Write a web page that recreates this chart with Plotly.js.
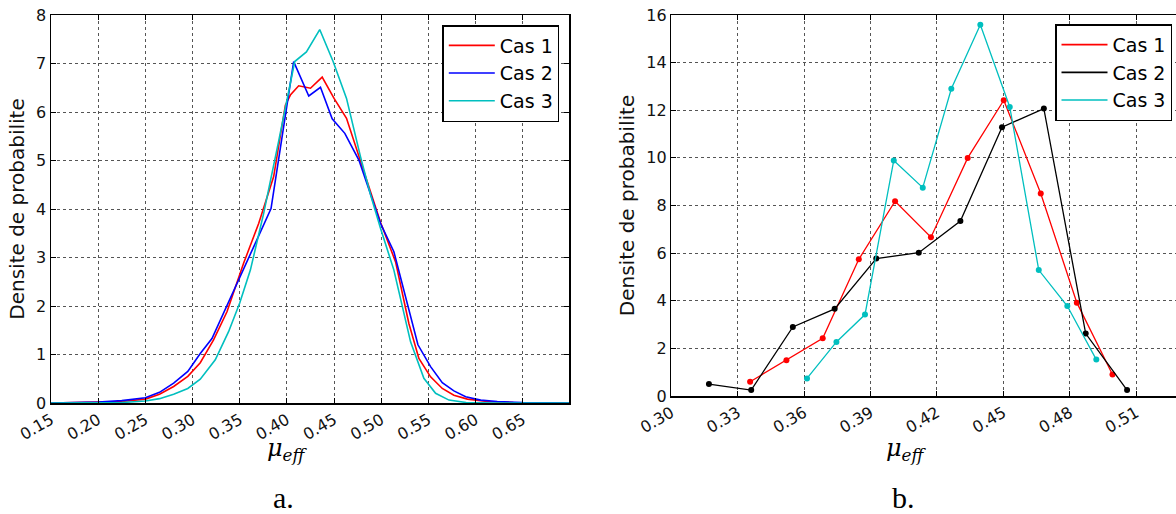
<!DOCTYPE html>
<html><head><meta charset="utf-8">
<script src="https://cdn.plot.ly/plotly-3.0.1.min.js"></script>
<style>html,body{margin:0;padding:0;background:#fff}#chart{width:1176px;height:514px}</style>
</head><body><div id="chart"></div>
<script>
// ---------- Data: panel a ----------
const seriesNamesA = ["Cas 1", "Cas 2", "Cas 3"];
const a_cas1_x = [0.15,0.20,0.225,0.25,0.265,0.28,0.295,0.3082,0.3223,0.3365,0.3541,0.3701,0.386,0.3984,0.4037,0.4125,0.425,0.4374,0.450,0.4632,0.4777,0.4886,0.4993,0.5152,0.5293,0.5399,0.5523,0.5647,0.577,0.5913,0.6125,0.64,0.70];
const a_cas1_y = [0,0.01,0.03,0.08,0.18,0.34,0.55,0.83,1.30,1.88,2.88,3.70,4.67,6.14,6.35,6.54,6.49,6.72,6.28,5.87,5.01,4.35,3.72,2.91,1.64,0.92,0.54,0.30,0.16,0.08,0.03,0.01,0];
const a_cas2_x = [0.15,0.175,0.20,0.225,0.25,0.265,0.28,0.295,0.3082,0.3206,0.3436,0.3648,0.3832,0.3952,0.4072,0.4232,0.4356,0.448,0.4614,0.4763,0.4886,0.4993,0.5134,0.5258,0.5389,0.5523,0.5647,0.577,0.5895,0.6054,0.623,0.65,0.70];
const a_cas2_y = [0,0.005,0.02,0.05,0.11,0.22,0.41,0.65,1.02,1.33,2.33,3.22,4.01,5.5,7.04,6.33,6.51,5.86,5.56,5.01,4.32,3.70,3.12,2.19,1.20,0.75,0.42,0.25,0.13,0.06,0.03,0.01,0];
const a_cas3_x = [0.15,0.20,0.225,0.25,0.265,0.28,0.295,0.3082,0.3241,0.3382,0.35,0.3613,0.3754,0.3913,0.4083,0.4207,0.4348,0.449,0.4632,0.478,0.4886,0.4993,0.5134,0.5311,0.5452,0.5576,0.5718,0.59,0.62,0.70];
const a_cas3_y = [0,0,0.01,0.04,0.09,0.18,0.30,0.49,0.89,1.47,2.06,2.74,3.91,5.4,7.04,7.24,7.70,7.04,6.28,5.08,4.3,3.6,2.74,1.26,0.51,0.20,0.06,0.01,0,0];
const a_xticks = [0.15,0.20,0.25,0.30,0.35,0.40,0.45,0.50,0.55,0.60,0.65];
const a_yticks = [0,1,2,3,4,5,6,7,8];

// ---------- Data: panel b ----------
const seriesNamesB = ["Cas 1", "Cas 2", "Cas 3"];
const b_cas1_x = [0.3356,0.3520,0.3684,0.3847,0.4011,0.4173,0.4339,0.4502,0.4669,0.4832,0.4993];
const b_cas1_y = [0.60,1.50,2.42,5.74,8.18,6.67,10.0,12.42,8.50,3.92,0.90];
const b_cas2_x = [0.317,0.3361,0.3549,0.3738,0.3926,0.4118,0.4306,0.4494,0.4683,0.4872,0.5059];
const b_cas2_y = [0.50,0.25,2.90,3.66,5.77,6.02,7.35,11.29,12.07,2.62,0.25];
const b_cas3_x = [0.3613,0.3746,0.3875,0.4005,0.4136,0.4265,0.4396,0.4529,0.4660,0.4789,0.4920];
const b_cas3_y = [0.74,2.27,3.42,9.89,8.75,12.9,15.59,12.14,5.29,3.78,1.53];
const b_xticks = [0.30,0.33,0.36,0.39,0.42,0.45,0.48,0.51];
const b_yticks = [0,2,4,6,8,10,12,14,16];

const xTitleText = '<i>μ</i><sub><i>eff</i></sub>';
const yTitleText = 'Densite de probabilite';

const colA = ['#ff0000','#0000ff','#00bfbf'];
const colB = ['#ff0000','#000000','#00bfbf'];

const traces = [
  {x:a_cas1_x, y:a_cas1_y, name:seriesNamesA[0], mode:'lines', line:{color:colA[0], width:1.6}, xaxis:'x', yaxis:'y', legend:'legend'},
  {x:a_cas2_x, y:a_cas2_y, name:seriesNamesA[1], mode:'lines', line:{color:colA[1], width:1.6}, xaxis:'x', yaxis:'y', legend:'legend'},
  {x:a_cas3_x, y:a_cas3_y, name:seriesNamesA[2], mode:'lines', line:{color:colA[2], width:1.6}, xaxis:'x', yaxis:'y', legend:'legend'},
  {x:b_cas1_x, y:b_cas1_y, name:seriesNamesB[0], mode:'lines+markers', line:{color:colB[0], width:1.3}, marker:{color:colB[0], size:6}, xaxis:'x2', yaxis:'y2', showlegend:false},
  {x:b_cas2_x, y:b_cas2_y, name:seriesNamesB[1], mode:'lines+markers', line:{color:colB[1], width:1.3}, marker:{color:colB[1], size:6}, xaxis:'x2', yaxis:'y2', showlegend:false},
  {x:b_cas3_x, y:b_cas3_y, name:seriesNamesB[2], mode:'lines+markers', line:{color:colB[2], width:1.3}, marker:{color:colB[2], size:6}, xaxis:'x2', yaxis:'y2', showlegend:false}
];
// legend entries for panel b show only a line (as in the reference)
seriesNamesB.forEach((n, i) => traces.push({x:[null], y:[null], name:n, mode:'lines', line:{color:colB[i], width:1.6}, xaxis:'x2', yaxis:'y2', legend:'legend2', showlegend:true}));

const tickFont = {family:'DejaVu Sans', size:16, color:'#111'};
function ax(extra){
  return Object.assign({
    showline:true, linecolor:'#000', linewidth:1.5, mirror:'ticks',
    ticks:'inside', ticklen:5, tickwidth:1, tickcolor:'#000',
    showgrid:true, gridcolor:'#555', griddash:'dot', gridwidth:1,
    zeroline:false, tickfont:tickFont, automargin:false
  }, extra);
}
const yTitle = () => ({text:yTitleText, font:{family:'DejaVu Sans', size:20, color:'#111'}, standoff:6});

const legendBase = () => ({bgcolor:'#fff', bordercolor:'#000', borderwidth:1.5, xanchor:'right', yanchor:'top',
  font:{family:'DejaVu Sans', size:19, color:'#000'}, itemwidth:46, tracegroupgap:0});

const annFont = {family:'Liberation Serif', size:30, color:'#000'};
const xtFont = {family:'DejaVu Serif', size:24, color:'#000'};

const layout = {
  width:1176, height:514, margin:{l:0, r:0, t:0, b:0},
  paper_bgcolor:'#fff', plot_bgcolor:'#fff', showlegend:true,
  xaxis: ax({domain:[51/1176, 569/1176], range:[0.15, 0.699], tickvals:a_xticks, tickformat:'.2f', tickangle:-30, anchor:'y'}),
  yaxis: ax({domain:[1-403/514, 1-15/514], range:[0,8], tickvals:a_yticks, anchor:'x', title:yTitle()}),
  xaxis2: ax({domain:[671.3/1176, 1], range:[0.30, 0.528], tickvals:b_xticks, tickformat:'.2f', tickangle:-30, anchor:'y2'}),
  yaxis2: ax({domain:[1-396/514, 1-15/514], range:[0,16], tickvals:b_yticks, anchor:'x2', mirror:false, title:yTitle()}),
  legend: Object.assign({x:559.3/1176, y:1-25/514}, legendBase()),
  legend2: Object.assign({x:1172/1176, y:1-24.3/514}, legendBase()),
  annotations:[
    {text:xTitleText, x:287/1176, y:1-449/514, xref:'paper', yref:'paper', showarrow:false, font:xtFont, xanchor:'center', yanchor:'middle'},
    {text:xTitleText, x:906/1176, y:1-449/514, xref:'paper', yref:'paper', showarrow:false, font:xtFont, xanchor:'center', yanchor:'middle'},
    {text:'a.', x:283/1176, y:1-497/514, xref:'paper', yref:'paper', showarrow:false, font:annFont, xanchor:'center', yanchor:'middle'},
    {text:'b.', x:903/1176, y:1-497/514, xref:'paper', yref:'paper', showarrow:false, font:annFont, xanchor:'center', yanchor:'middle'}
  ]
};

Plotly.newPlot('chart', traces, layout, {displayModeBar:false, staticPlot:true});
</script>
</body></html>
